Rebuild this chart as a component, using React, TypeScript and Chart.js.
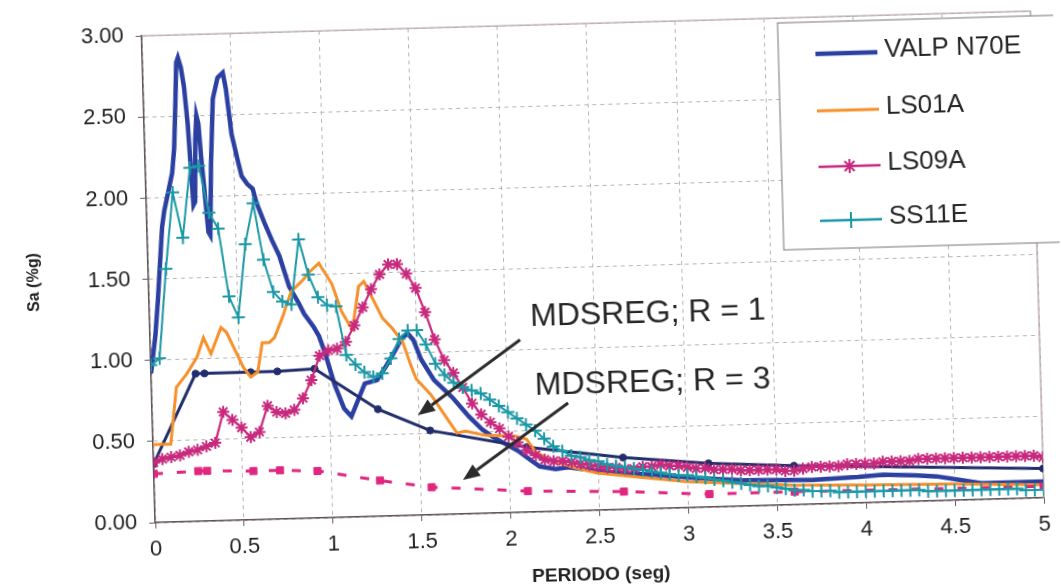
import React, { useEffect, useRef } from 'react';
import { Chart, registerables } from 'chart.js';

Chart.register(...registerables);

const FONT = '"Liberation Sans", Arial, Helvetica, sans-serif';

// ---------- DATA (period in s, Sa in %g) ----------
const valpT = [0.00, 0.03, 0.05, 0.085, 0.10, 0.137, 0.15, 0.165, 0.18, 0.19, 0.20, 0.215, 0.23, 0.245, 0.255, 0.265, 0.275, 0.285, 0.295, 0.305, 0.315, 0.33, 0.345, 0.355, 0.37, 0.39, 0.42, 0.45, 0.465, 0.49, 0.52, 0.54, 0.57, 0.60, 0.62, 0.66, 0.70, 0.74, 0.79, 0.84, 0.87, 0.92, 0.95, 0.98, 1.03, 1.08, 1.12, 1.16, 1.20, 1.27, 1.32, 1.36, 1.42, 1.45, 1.48, 1.52, 1.59, 1.69, 1.78, 1.85, 1.91, 2.05, 2.12, 2.17, 2.26, 2.33, 2.45, 2.6, 2.8, 3.06, 3.3, 3.7, 3.96, 4.1, 4.28, 4.4, 4.55, 4.65, 5.0];
const valpSa = [0.92, 1.15, 1.37, 1.82, 1.92, 2.09, 2.15, 2.30, 2.60, 2.83, 2.86, 2.80, 2.68, 2.45, 2.20, 1.95, 1.97, 2.35, 2.50, 2.45, 2.25, 2.02, 1.78, 1.76, 2.20, 2.60, 2.73, 2.76, 2.66, 2.38, 2.22, 2.12, 2.07, 2.04, 1.95, 1.83, 1.72, 1.62, 1.43, 1.33, 1.26, 1.18, 1.12, 1.02, 0.82, 0.67, 0.62, 0.72, 0.82, 0.84, 0.92, 0.99, 1.10, 1.12, 1.08, 0.96, 0.83, 0.72, 0.60, 0.52, 0.47, 0.38, 0.32, 0.28, 0.26, 0.27, 0.25, 0.23, 0.21, 0.18, 0.16, 0.15, 0.16, 0.17, 0.16, 0.15, 0.12, 0.10, 0.10];

const ls01T = [0.00, 0.10, 0.14, 0.20, 0.26, 0.30, 0.34, 0.40, 0.43, 0.52, 0.56, 0.60, 0.63, 0.67, 0.70, 0.75, 0.80, 0.87, 0.90, 0.96, 1.03, 1.08, 1.12, 1.14, 1.18, 1.21, 1.25, 1.31, 1.36, 1.42, 1.46, 1.49, 1.57, 1.64, 1.71, 1.76, 1.87, 2.04, 2.10, 2.15, 2.21, 2.35, 2.49, 2.7, 3.0, 3.3, 3.6, 4.0, 4.5, 5.0];
const ls01Sa = [0.48, 0.48, 0.83, 0.91, 1.01, 1.13, 1.03, 1.19, 1.16, 0.94, 0.88, 0.91, 1.09, 1.09, 1.12, 1.25, 1.40, 1.47, 1.51, 1.57, 1.44, 1.27, 1.19, 1.16, 1.42, 1.45, 1.36, 1.22, 1.16, 1.07, 0.93, 0.84, 0.74, 0.62, 0.50, 0.51, 0.48, 0.47, 0.45, 0.37, 0.33, 0.27, 0.23, 0.20, 0.16, 0.14, 0.12, 0.11, 0.10, 0.08];

const gridT = [
  0.00, 0.05, 0.10, 0.15, 0.20, 0.25, 0.30, 0.35, 0.40, 0.45,
  0.50, 0.55, 0.60, 0.65, 0.70, 0.75, 0.80, 0.85, 0.90, 0.95,
  1.00, 1.05, 1.10, 1.15, 1.20, 1.25, 1.30, 1.35, 1.40, 1.45,
  1.50, 1.55, 1.60, 1.65, 1.70, 1.75, 1.80, 1.85, 1.90, 1.95,
  2.00, 2.05, 2.10, 2.15, 2.20, 2.25, 2.30, 2.35, 2.40, 2.45,
  2.50, 2.55, 2.60, 2.65, 2.70, 2.75, 2.80, 2.85, 2.90, 2.95,
  3.00, 3.05, 3.10, 3.15, 3.20, 3.25, 3.30, 3.35, 3.40, 3.45,
  3.50, 3.55, 3.60, 3.65, 3.70, 3.75, 3.80, 3.85, 3.90, 3.95,
  4.00, 4.05, 4.10, 4.15, 4.20, 4.25, 4.30, 4.35, 4.40, 4.45,
  4.50, 4.55, 4.60, 4.65, 4.70, 4.75, 4.80, 4.85, 4.90, 4.95,
  5.00,
];
const ls09Sa = [
  0.37, 0.39, 0.40, 0.41, 0.43, 0.44, 0.46, 0.48, 0.67, 0.62,
  0.57, 0.51, 0.54, 0.70, 0.66, 0.65, 0.67, 0.74, 0.85, 1.00,
  1.03, 1.04, 1.08, 1.18, 1.29, 1.40, 1.49, 1.55, 1.55, 1.49,
  1.40, 1.25, 1.08, 0.95, 0.87, 0.78, 0.68, 0.61, 0.56, 0.52,
  0.47, 0.43, 0.38, 0.35, 0.32, 0.31, 0.31, 0.30, 0.29, 0.28,
  0.27, 0.26, 0.26, 0.25, 0.25, 0.26, 0.26, 0.27, 0.26, 0.26,
  0.25, 0.24, 0.24, 0.23, 0.23, 0.23, 0.22, 0.22, 0.22, 0.22,
  0.22, 0.21, 0.21, 0.22, 0.23, 0.23, 0.23, 0.23, 0.24, 0.24,
  0.24, 0.24, 0.25, 0.25, 0.25, 0.25, 0.26, 0.26, 0.26, 0.26,
  0.26, 0.26, 0.26, 0.26, 0.26, 0.26, 0.26, 0.26, 0.26, 0.26,
  0.25,
];
const ss11Sa = [
  0.97, 1.01, 1.56, 2.03, 1.75, 2.18, 2.19, 1.90, 1.80, 1.38,
  1.25, 1.70, 1.95, 1.60, 1.40, 1.34, 1.32, 1.72, 1.50, 1.36,
  1.31, 1.30, 1.00, 0.94, 0.89, 0.86, 0.88, 0.97, 1.09, 1.14,
  1.14, 1.05, 0.93, 0.86, 0.81, 0.78, 0.76, 0.74, 0.70, 0.66,
  0.62, 0.58, 0.54, 0.50, 0.45, 0.40, 0.37, 0.34, 0.33, 0.31,
  0.30, 0.28, 0.27, 0.26, 0.25, 0.24, 0.23, 0.22, 0.21, 0.20,
  0.20, 0.19, 0.18, 0.17, 0.16, 0.15, 0.14, 0.13, 0.12, 0.12,
  0.11, 0.10, 0.09, 0.09, 0.08, 0.08, 0.08, 0.07, 0.07, 0.07,
  0.07, 0.07, 0.07, 0.07, 0.07, 0.07, 0.07, 0.06, 0.06, 0.06,
  0.06, 0.06, 0.06, 0.06, 0.06, 0.06, 0.06, 0.06, 0.05, 0.05,
  0.05,
];

const mdsT = [0, 0.25, 0.30, 0.56, 0.71, 0.92, 1.27, 1.56, 2.10, 2.64, 3.12, 3.60, 5.00];
const mdsR1 = [0.36, 0.91, 0.91, 0.91, 0.91, 0.92, 0.66, 0.52, 0.40, 0.32, 0.27, 0.24, 0.18];
const mdsR3 = [0.30, 0.31, 0.31, 0.30, 0.30, 0.29, 0.22, 0.17, 0.13, 0.11, 0.08, 0.08, 0.07];

const seriesNames = ['VALP N70E', 'LS01A', 'LS09A', 'SS11E', 'MDSREG; R = 1', 'MDSREG; R = 3'];
const xTickLabels = ['0', '0.5', '1', '1.5', '2', '2.5', '3', '3.5', '4', '4.5', '5'];
const yTickLabels = ['0.00', '0.50', '1.00', '1.50', '2.00', '2.50', '3.00'];
const xTitle = 'PERIODO (seg)';
const yTitle = 'Sa (%g)';

// annotation anchors in data units (text left/middle, arrow tail -> tip)
const notes = [
  { text: 'MDSREG; R = 1', tx: 2.14, ty: 1.20, x1: 2.08, y1: 1.063, x2: 1.494, y2: 0.617 },
  { text: 'MDSREG; R = 3', tx: 2.156, ty: 0.776, x1: 2.34, y1: 0.665, x2: 1.737, y2: 0.209 },
];

const COLORS = {
  valp: '#2c40a2',
  ls01: '#f5902a',
  ls09: '#c8297d',
  ss11: '#1b98a6',
  r1: '#222d6c',
  r3: '#e1267f',
};

function pts(xs: number[], ys: number[]) {
  return xs.map((x, i) => ({ x, y: ys[i] }));
}

function drawMarker(ctx: CanvasRenderingContext2D, style: string, x: number, y: number, r: number) {
  ctx.beginPath();
  if (style === 'star') {
    for (let k = 0; k < 4; k++) {
      const a = (k * Math.PI) / 4;
      ctx.moveTo(x - r * Math.cos(a), y - r * Math.sin(a));
      ctx.lineTo(x + r * Math.cos(a), y + r * Math.sin(a));
    }
  } else if (style === 'cross') {
    ctx.moveTo(x - r, y);
    ctx.lineTo(x + r, y);
    ctx.moveTo(x, y - r);
    ctx.lineTo(x, y + r);
  }
  ctx.stroke();
}

const decorPlugin = {
  id: 'decor',
  beforeDatasetsDraw(chart: any) {
    const { ctx, chartArea: a } = chart;
    ctx.save();
    ctx.strokeStyle = '#b5a6ae';
    ctx.lineWidth = 1.3;
    ctx.beginPath();
    ctx.moveTo(a.left, a.top);
    ctx.lineTo(a.right, a.top);
    ctx.lineTo(a.right, a.bottom);
    ctx.stroke();
    ctx.restore();
  },
  afterDatasetsDraw(chart: any) {
    const { ctx } = chart;
    const xs = chart.scales.x;
    const ys = chart.scales.y;
    ctx.save();
    // annotations
    for (const n of notes) {
      const px1 = xs.getPixelForValue(n.x1);
      const py1 = ys.getPixelForValue(n.y1);
      const px2 = xs.getPixelForValue(n.x2);
      const py2 = ys.getPixelForValue(n.y2);
      const ang = Math.atan2(py2 - py1, px2 - px1);
      const head = 17;
      const hw = 7;
      const bx = px2 - head * Math.cos(ang);
      const by = py2 - head * Math.sin(ang);
      ctx.strokeStyle = '#2b2b2b';
      ctx.fillStyle = '#2b2b2b';
      ctx.lineWidth = 3;
      ctx.beginPath();
      ctx.moveTo(px1, py1);
      ctx.lineTo(bx, by);
      ctx.stroke();
      ctx.beginPath();
      ctx.moveTo(px2, py2);
      ctx.lineTo(bx + hw * Math.sin(ang), by - hw * Math.cos(ang));
      ctx.lineTo(bx - hw * Math.sin(ang), by + hw * Math.cos(ang));
      ctx.closePath();
      ctx.fill();
      ctx.font = `32px ${FONT}`;
      ctx.fillStyle = '#262626';
      ctx.textAlign = 'left';
      ctx.textBaseline = 'middle';
      ctx.fillText(n.text, xs.getPixelForValue(n.tx), ys.getPixelForValue(n.ty));
    }
    // legend box
    const bx0 = 785, by0 = 30, bw = 300, bh = 227;
    ctx.fillStyle = '#ffffff';
    ctx.fillRect(bx0, by0, bw, bh);
    ctx.strokeStyle = '#8c8c8c';
    ctx.lineWidth = 1.2;
    ctx.strokeRect(bx0, by0, bw, bh);
    const rowY = [62, 119, 175, 229];
    const lx1 = 822, lx2 = 884, tx = 891;
    for (let i = 0; i < 4; i++) {
      const ds = chart.data.datasets[i];
      const y = rowY[i];
      ctx.strokeStyle = ds.borderColor;
      ctx.lineWidth = Math.max(2.5, ds.borderWidth);
      ctx.setLineDash([]);
      ctx.beginPath();
      ctx.moveTo(lx1, y);
      ctx.lineTo(lx2, y);
      ctx.stroke();
      if (ds.pointStyle === 'star' || ds.pointStyle === 'cross') {
        ctx.lineWidth = 2;
        drawMarker(ctx, ds.pointStyle, (lx1 + lx2) / 2, y, ds.pointStyle === 'star' ? 7 : 8);
      }
      ctx.font = `26px ${FONT}`;
      ctx.fillStyle = '#262626';
      ctx.textAlign = 'left';
      ctx.textBaseline = 'middle';
      ctx.fillText(ds.label, tx, y - 2);
    }
    ctx.restore();
  },
};

export default function App() {
  const ref = useRef<HTMLCanvasElement | null>(null);

  useEffect(() => {
    if (!ref.current) return;
    const tickFont = { family: FONT, size: 22 };
    const chart = new Chart(ref.current, {
      type: 'line',
      data: {
        datasets: [
          {
            label: seriesNames[0], data: pts(valpT, valpSa), borderColor: COLORS.valp,
            backgroundColor: COLORS.valp, borderWidth: 4.5, pointRadius: 0, order: 7,
          },
          {
            label: seriesNames[1], data: pts(ls01T, ls01Sa), borderColor: COLORS.ls01,
            backgroundColor: COLORS.ls01, borderWidth: 3, pointRadius: 0, order: 5,
          },
          {
            label: seriesNames[2], data: pts(gridT, ls09Sa), borderColor: COLORS.ls09,
            backgroundColor: COLORS.ls09, borderWidth: 2.2, pointStyle: 'star', pointRadius: 6,
            pointBorderWidth: 2, pointBorderColor: COLORS.ls09, order: 3,
          },
          {
            label: seriesNames[3], data: pts(gridT, ss11Sa), borderColor: COLORS.ss11,
            backgroundColor: COLORS.ss11, borderWidth: 2, pointStyle: 'cross', pointRadius: 6.5,
            pointBorderWidth: 2, pointBorderColor: COLORS.ss11, order: 2,
          },
          {
            label: seriesNames[4], data: pts(mdsT, mdsR1), borderColor: COLORS.r1,
            backgroundColor: COLORS.r1, borderWidth: 3, pointStyle: 'circle', pointRadius: 3.5,
            pointBorderWidth: 1, order: 6,
          },
          {
            label: seriesNames[5], data: pts(mdsT, mdsR3), borderColor: COLORS.r3,
            backgroundColor: COLORS.r3, borderWidth: 3, borderDash: [9, 14], pointStyle: 'rect',
            pointRadius: 5, pointBorderWidth: 1, order: 4,
          },
        ],
      },
      options: {
        responsive: false,
        animation: false,
        events: [],
        layout: { padding: { top: 25, right: 23, left: 0, bottom: 0 } },
        plugins: {
          legend: { display: false },
          tooltip: { enabled: false },
        },
        elements: { line: { tension: 0 } },
        scales: {
          x: {
            type: 'linear', min: 0, max: 5,
            afterFit: (s: any) => { s.height = 76; },
            ticks: {
              stepSize: 0.5, autoSkip: false, maxRotation: 0, padding: 8,
              font: tickFont, color: '#222',
              callback: (_v: any, i: number) => xTickLabels[i],
            },
            grid: { color: '#b4b4b4', lineWidth: 1, tickLength: 6, tickColor: '#6a5f64', tickBorderDash: [] },
            border: { display: true, color: '#5f5358', width: 1.5, dash: [4, 4] },
            title: {
              display: true, text: xTitle, color: '#222',
              font: { family: FONT, size: 19, weight: 'bold' }, padding: { top: 0, bottom: 0 },
            },
          },
          y: {
            type: 'linear', min: 0, max: 3,
            afterFit: (s: any) => { s.width = 149; },
            ticks: {
              stepSize: 0.5, padding: 12, font: tickFont, color: '#222',
              callback: (_v: any, i: number) => yTickLabels[i],
            },
            grid: { color: '#b4b4b4', lineWidth: 1, tickLength: 6, tickColor: '#6a5f64', tickBorderDash: [] },
            border: { display: true, color: '#5f5358', width: 1.5, dash: [4, 4] },
            title: {
              display: true, text: yTitle, color: '#222',
              font: { family: FONT, size: 16, weight: 'bold' }, padding: { top: 25, bottom: 0 },
            },
          },
        },
      },
      plugins: [decorPlugin],
    } as any);
    return () => chart.destroy();
  }, []);

  return (
    <div style={{ position: 'fixed', left: 0, top: 0, width: 1061, height: 588, overflow: 'hidden', background: '#fff' }}>
      <div style={{ width: 1061, height: 588, transform: 'rotate(-1.6deg)', transformOrigin: '530.5px 294px' }}>
        <canvas ref={ref} width={1061} height={588} style={{ display: 'block', width: 1061, height: 588 }} />
      </div>
    </div>
  );
}
